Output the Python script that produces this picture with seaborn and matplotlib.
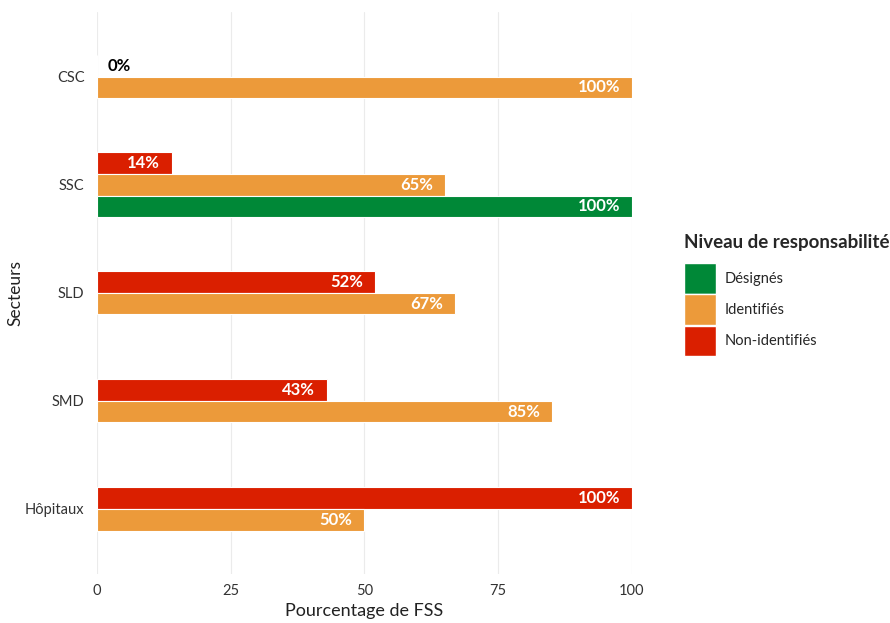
import pandas as pd
import matplotlib.pyplot as plt
import seaborn as sns
from matplotlib.patches import Patch

# Data
secteurs = ["CSC", "SSC", "SLD", "SMD", "Hôpitaux"]
niveaux = ["Non-identifiés", "Identifiés", "Désignés"]
non_identifies = [0, 14, 52, 43, 100]
identifies = [100, 65, 67, 85, 50]
designes = [None, 100, None, None, None]

couleurs = {"Désignés": "#008837", "Identifiés": "#EC9A3A", "Non-identifiés": "#DA1F00"}

# long table, one row per bar, dodged like ggplot (preserve single)
rows = []
for i, sect in enumerate(secteurs):
    vals = [non_identifies[i], identifies[i], designes[i]]
    present = [(n, v) for n, v in zip(niveaux, vals) if v is not None]
    k = len(present)
    for j, (n, v) in enumerate(present):
        rows.append({"Secteur": sect, "Niveau": n, "Valeur": v,
                     "pos": i + (j - (k - 1) / 2) * 0.2})
df = pd.DataFrame(rows)

sns.set_theme(style="white")
plt.rcParams["font.family"] = ["Lato", "DejaVu Sans"]

fig = plt.figure(figsize=(8.9, 6.23), dpi=100)
ax = fig.add_axes([0.109, 0.079, 0.601, 0.902])

sns.barplot(data=df, x="Valeur", y="pos", hue="Niveau", orient="h",
            native_scale=True, dodge=False, width=1, palette=couleurs, saturation=1,
            edgecolor="white", linewidth=0.8, legend=False, ax=ax)

for _, r in df.iterrows():
    if r["Valeur"] >= 10:
        ax.text(r["Valeur"] - 2.2, r["pos"], f"{r['Valeur']:.0f}%", color="white",
                fontweight="bold", fontsize=12, ha="right", va="center")
    else:
        ax.text(r["Valeur"] + 2, r["pos"], f"{r['Valeur']:.0f}%", color="black",
                fontweight="bold", fontsize=12, ha="left", va="center")

ax.set_xlim(0, 100)
ax.set_ylim(len(secteurs) - 0.4, -0.6)
ax.set_yticks(range(len(secteurs)))
ax.set_yticklabels(secteurs)
ax.set_xticks([0, 25, 50, 75, 100])
ax.grid(axis="x", color="#ebebeb", linewidth=0.8)
ax.grid(axis="y", visible=False)
ax.set_axisbelow(True)
for s in ax.spines.values():
    s.set_visible(False)
ax.tick_params(axis="both", length=0, labelsize=10.5, labelcolor="#333333")
ax.tick_params(axis="y", pad=9)
ax.tick_params(axis="x", pad=7)
ax.set_xlabel("Pourcentage de FSS", fontsize=13, color="#222222", labelpad=4)
ax.set_ylabel("Secteurs", fontsize=12.5, color="#222222", labelpad=1)

handles = [Patch(facecolor=couleurs[n], edgecolor="white", label=n)
           for n in ["Désignés", "Identifiés", "Non-identifiés"]]
leg = fig.legend(handles=handles, title="Niveau de responsabilité",
                 loc="upper left", bbox_to_anchor=(0.754, 0.646), frameon=False,
                 fontsize=10.5, title_fontsize=13.5, handlelength=2.2, handleheight=2.85,
                 labelspacing=0.05, handletextpad=0.6, alignment="left")
leg.get_title().set_fontweight("bold")
leg._legend_box.sep = 9

fig.savefig("out.png", dpi=100)
